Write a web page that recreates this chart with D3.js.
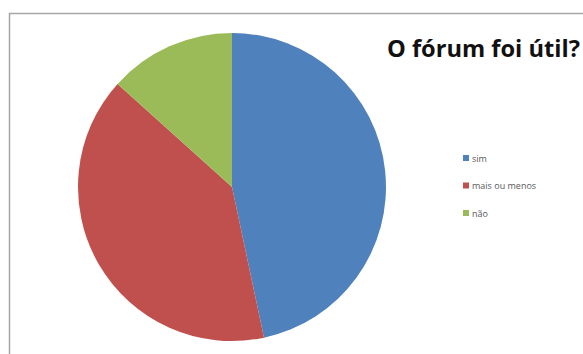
<!DOCTYPE html>
<head>
  <meta charset="utf-8">
  <script src="https://d3js.org/d3.v7.min.js"></script>
  <style>
    body { margin:0; background:#fff; }
    svg { display:block; }
  </style>
</head>
<body>
  <svg width="583" height="354"></svg>
  <script>
    var categorias = ['sim', 'mais ou menos', 'não'];
    var respostas = [7, 6, 2];
    var cores = ['#4F81BD', '#C0504D', '#9BBB59'];
    var titulo = 'O fórum foi útil?';

    var svg = d3.select('svg');

    // moldura (só topo e esquerda aparecem no recorte)
    svg.append('path')
      .attr('d', 'M9.5,354 V13.5 H583')
      .attr('stroke', '#a6a6a6')
      .attr('stroke-width', 1.5)
      .attr('fill', 'none');

    var cx = 232, cy = 187, raio = 154;

    var pie = d3.pie().sort(null).value(d => d);
    var arco = d3.arc().innerRadius(0).outerRadius(raio);

    var g = svg.append('g').attr('transform', 'translate(' + [cx, cy] + ')');
    g.selectAll('path')
      .data(pie(respostas))
      .enter().append('path')
      .attr('d', arco)
      .attr('fill', (d, i) => cores[i]);

    // título
    var t = svg.append('text')
      .attr('x', 387)
      .attr('y', 57)
      .attr('font-family', 'Open Sans')
      .attr('font-weight', 'bold')
      .attr('font-size', 20)
      .attr('fill', '#111')
      .text(titulo);
    var w = t.node().getComputedTextLength();
    t.attr('font-size', 20 * 193 / w);

    // legenda
    var cor = d3.scaleOrdinal().domain(categorias).range(cores);
    var y = d3.scalePoint().domain(categorias).range([158, 213]);

    var leg = svg.append('g').selectAll('g')
      .data(categorias)
      .enter().append('g')
      .attr('transform', d => 'translate(' + [463, y(d)] + ')');
    leg.append('rect')
      .attr('x', 0).attr('y', -3)
      .attr('width', 6).attr('height', 6)
      .attr('fill', d => cor(d));
    leg.append('text')
      .attr('x', 9).attr('y', 3.5)
      .attr('font-family', 'Open Sans')
      .attr('font-size', 9)
      .attr('fill', '#595959')
      .text(d => d);
  </script>
</body>
